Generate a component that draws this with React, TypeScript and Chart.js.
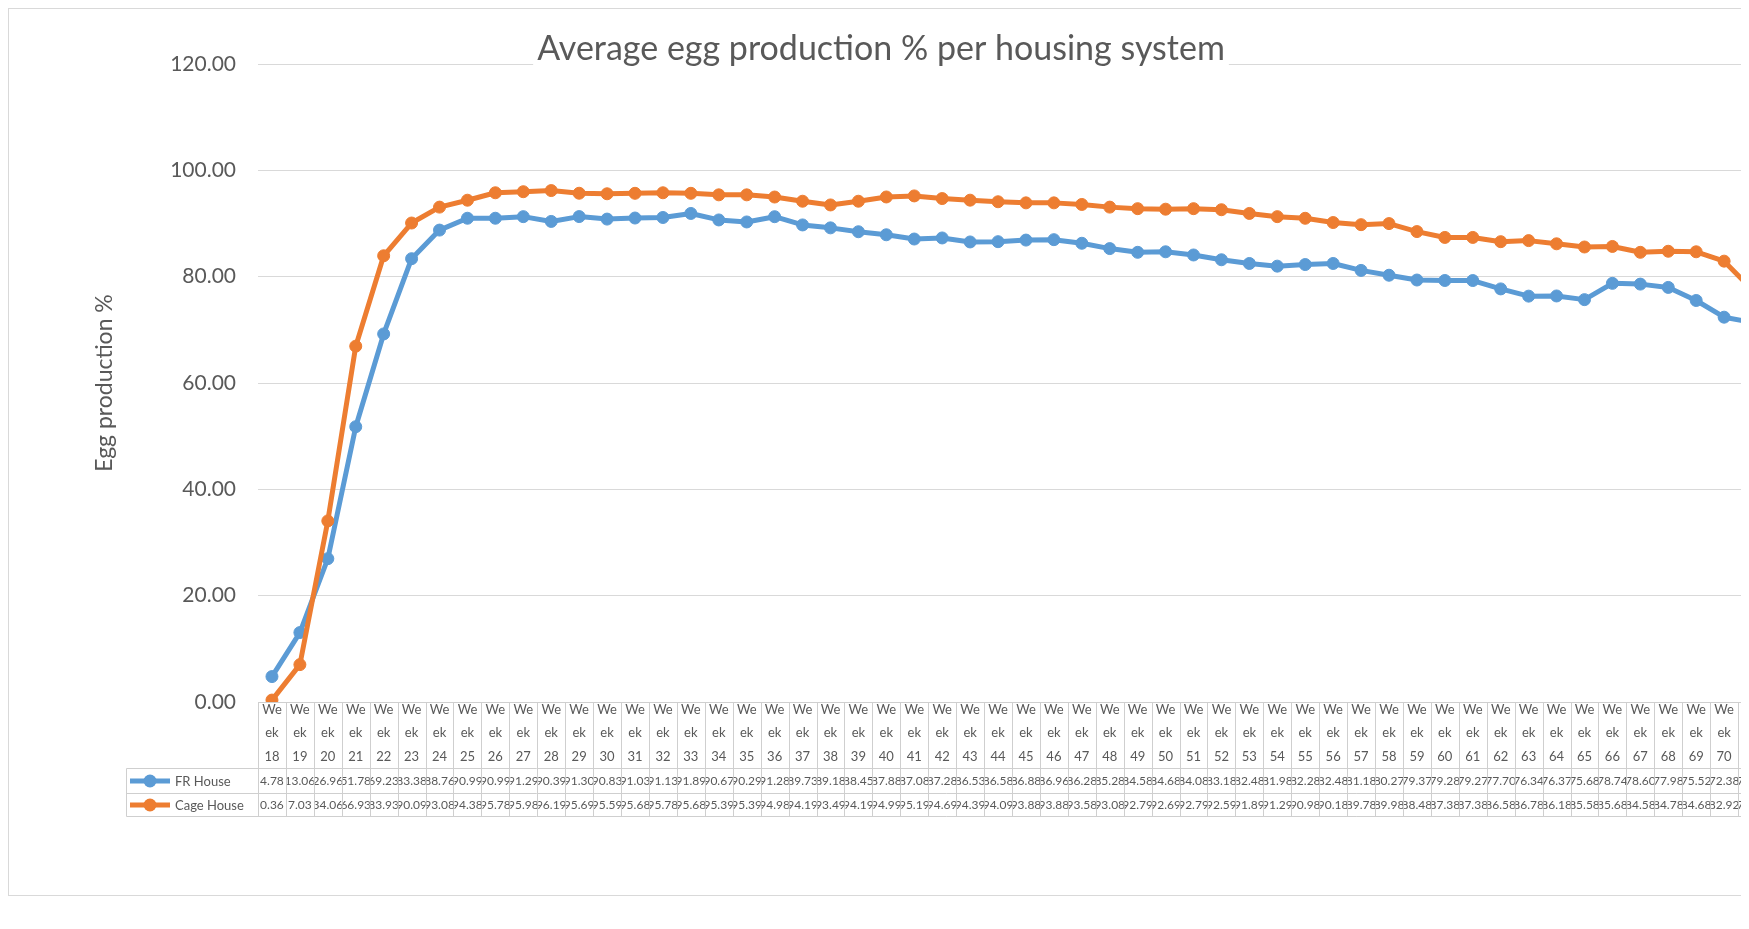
import React, { useEffect, useRef } from "react";
import { Chart, registerables } from "chart.js";

Chart.register(...registerables);

const chartTitle = "Average egg production % per housing system";
const yAxisTitle = "Egg production %";

const categories = [
  "Week 18", "Week 19", "Week 20", "Week 21", "Week 22", "Week 23", "Week 24", "Week 25", "Week 26",
  "Week 27", "Week 28", "Week 29", "Week 30", "Week 31", "Week 32", "Week 33", "Week 34", "Week 35",
  "Week 36", "Week 37", "Week 38", "Week 39", "Week 40", "Week 41", "Week 42", "Week 43", "Week 44",
  "Week 45", "Week 46", "Week 47", "Week 48", "Week 49", "Week 50", "Week 51", "Week 52", "Week 53",
  "Week 54", "Week 55", "Week 56", "Week 57", "Week 58", "Week 59", "Week 60", "Week 61", "Week 62",
  "Week 63", "Week 64", "Week 65", "Week 66", "Week 67", "Week 68", "Week 69", "Week 70", "Week 71",
];

const frHouse = [
  4.78, 13.06, 26.96, 51.78, 69.23, 83.38, 88.76, 90.99, 90.99,
  91.29, 90.39, 91.30, 90.83, 91.03, 91.13, 91.89, 90.67, 90.29,
  91.28, 89.73, 89.18, 88.45, 87.88, 87.08, 87.28, 86.53, 86.58,
  86.88, 86.96, 86.28, 85.28, 84.58, 84.68, 84.08, 83.18, 82.48,
  81.98, 82.28, 82.48, 81.18, 80.27, 79.37, 79.28, 79.27, 77.70,
  76.34, 76.37, 75.68, 78.74, 78.60, 77.98, 75.52, 72.38, 71.40,
];

const cageHouse = [
  0.36, 7.03, 34.06, 66.93, 83.93, 90.09, 93.08, 94.38, 95.78,
  95.98, 96.19, 95.69, 95.59, 95.68, 95.78, 95.68, 95.39, 95.39,
  94.98, 94.19, 93.49, 94.19, 94.99, 95.19, 94.69, 94.39, 94.09,
  93.88, 93.88, 93.58, 93.08, 92.79, 92.69, 92.79, 92.59, 91.89,
  91.29, 90.98, 90.18, 89.78, 89.98, 88.48, 87.38, 87.38, 86.58,
  86.78, 86.18, 85.58, 85.68, 84.58, 84.78, 84.68, 82.92, 77.60,
];

const seriesNames = ["FR House", "Cage House"];
const BLUE = "#5B9BD5";
const ORANGE = "#ED7D31";
const TEXT = "#595959";
const GRID = "#d9d9d9";
const TABLE_LINE = "#cfcfcf";

function wrapChars(ctx: CanvasRenderingContext2D, label: string, maxW: number): string[] {
  const out: string[] = [];
  for (const word of label.split(" ")) {
    let cur = "";
    for (const ch of word) {
      if (cur && ctx.measureText(cur + ch).width > maxW) {
        out.push(cur);
        cur = ch;
      } else cur += ch;
    }
    if (cur) out.push(cur);
  }
  return out;
}

const titlePlugin = {
  id: "overlayTitle",
  afterDraw(chart: any) {
    const ctx: CanvasRenderingContext2D = chart.ctx;
    ctx.save();
    ctx.font = "400 34px Lato";
    const w = ctx.measureText(chartTitle).width;
    const cx = 872;
    const base = 51;
    ctx.fillStyle = "#ffffff";
    ctx.fillRect(cx - w / 2 - 4, base - 32, w + 8, 44);
    ctx.fillStyle = TEXT;
    ctx.textAlign = "center";
    ctx.textBaseline = "alphabetic";
    ctx.fillText(chartTitle, cx, base);
    ctx.restore();
  },
};

const tablePlugin = {
  id: "dataTable",
  afterDraw(chart: any) {
    const ctx: CanvasRenderingContext2D = chart.ctx;
    const area = chart.chartArea;
    const xs = chart.scales.x;
    const n = categories.length;
    const colW = (area.right - area.left) / n;
    const top = Math.round(area.bottom) + 0.5;
    const hdrBottom = top + 66;
    const r1 = top + 91;
    const r2 = top + 114;
    const labelLeft = 117.5;

    ctx.save();
    ctx.strokeStyle = TABLE_LINE;
    ctx.lineWidth = 1;
    ctx.beginPath();
    ctx.moveTo(area.left, top);
    ctx.lineTo(area.right, top);
    for (const y of [hdrBottom, r1, r2]) {
      ctx.moveTo(labelLeft, y);
      ctx.lineTo(area.right, y);
    }
    for (let i = 0; i <= n; i++) {
      const xb = Math.round(area.left + i * colW) + 0.5;
      ctx.moveTo(xb, top);
      ctx.lineTo(xb, r2);
    }
    ctx.moveTo(labelLeft, hdrBottom);
    ctx.lineTo(labelLeft, r2);
    ctx.stroke();

    // header labels
    ctx.fillStyle = TEXT;
    ctx.textAlign = "center";
    ctx.textBaseline = "middle";
    ctx.font = "13px Lato";
    for (let i = 0; i < n; i++) {
      const cx = xs.getPixelForValue(i);
      const lines = wrapChars(ctx, categories[i], colW - 4);
      lines.forEach((ln, k) => ctx.fillText(ln, cx, top + 7 + k * 23.5));
    }

    // values
    ctx.font = "12px Lato";
    const rows = [
      { data: frHouse, y0: hdrBottom, y1: r1 },
      { data: cageHouse, y0: r1, y1: r2 },
    ];
    rows.forEach((row) => {
      for (let i = 0; i < n; i++) {
        const xb = area.left + i * colW;
        const cx = xs.getPixelForValue(i);
        ctx.save();
        ctx.beginPath();
        ctx.rect(xb + 1, row.y0, colW - 1, row.y1 - row.y0);
        ctx.clip();
        ctx.fillText(row.data[i].toFixed(2), cx, (row.y0 + row.y1) / 2 + 0.5);
        ctx.restore();
      }
    });

    // legend keys
    const keyColors = [BLUE, ORANGE];
    rows.forEach((row, k) => {
      const cy = (row.y0 + row.y1) / 2;
      ctx.strokeStyle = keyColors[k];
      ctx.lineWidth = 5;
      ctx.beginPath();
      ctx.moveTo(121, cy);
      ctx.lineTo(161, cy);
      ctx.stroke();
      ctx.fillStyle = keyColors[k];
      ctx.beginPath();
      ctx.arc(141, cy, 6.5, 0, Math.PI * 2);
      ctx.fill();
      ctx.fillStyle = TEXT;
      ctx.textAlign = "left";
      ctx.font = "13px Lato";
      ctx.fillText(seriesNames[k], 166, cy + 0.5);
    });
    ctx.restore();
  },
};

export default function App() {
  const ref = useRef<HTMLCanvasElement | null>(null);

  useEffect(() => {
    if (!ref.current) return;
    const chart = new Chart(ref.current, {
      type: "line",
      data: {
        labels: categories,
        datasets: [
          {
            label: seriesNames[0],
            data: frHouse,
            borderColor: BLUE,
            backgroundColor: BLUE,
            pointBackgroundColor: BLUE,
            pointBorderColor: BLUE,
            borderWidth: 5,
            pointRadius: 6,
            pointBorderWidth: 1,
            tension: 0,
            order: 1,
          },
          {
            label: seriesNames[1],
            data: cageHouse,
            borderColor: ORANGE,
            backgroundColor: ORANGE,
            pointBackgroundColor: ORANGE,
            pointBorderColor: ORANGE,
            borderWidth: 5,
            pointRadius: 6,
            pointBorderWidth: 1,
            tension: 0,
            order: 0,
          },
        ],
      },
      options: {
        responsive: false,
        animation: false,
        layout: { padding: { left: 82, right: 41, top: 55, bottom: 193 } },
        plugins: {
          legend: { display: false },
          tooltip: { enabled: false },
          title: { display: false },
        },
        elements: { line: { borderJoinStyle: "round", borderCapStyle: "round" } },
        scales: {
          x: {
            type: "category",
            offset: true,
            grid: { display: false },
            border: { display: false },
            ticks: { display: false },
            afterFit: (s: any) => {
              s.height = 0;
            },
          },
          y: {
            min: 0,
            max: 120,
            border: { display: false },
            grid: { color: GRID, lineWidth: 1, drawTicks: false },
            ticks: {
              stepSize: 20,
              padding: 22,
              color: TEXT,
              font: { family: "Lato", size: 21 },
              callback: (v: any) => Number(v).toFixed(2),
            },
            title: {
              display: true,
              text: yAxisTitle,
              color: TEXT,
              font: { family: "Lato", size: 23 },
              padding: 0,
            },
            afterFit: (s: any) => {
              s.width = 167;
            },
          },
        },
      },
      plugins: [tablePlugin, titlePlugin],
    } as any);
    return () => chart.destroy();
  }, []);

  return (
    <div style={{ width: 1741, height: 900, overflow: "hidden" }}>
      <div
        style={{
          width: 1800,
          height: 888,
          border: "1px solid #d9d9d9",
          boxSizing: "border-box",
          background: "#fff",
        }}
      >
        <canvas ref={ref} width={1798} height={886} style={{ width: 1798, height: 886, display: "block" }} />
      </div>
    </div>
  );
}
